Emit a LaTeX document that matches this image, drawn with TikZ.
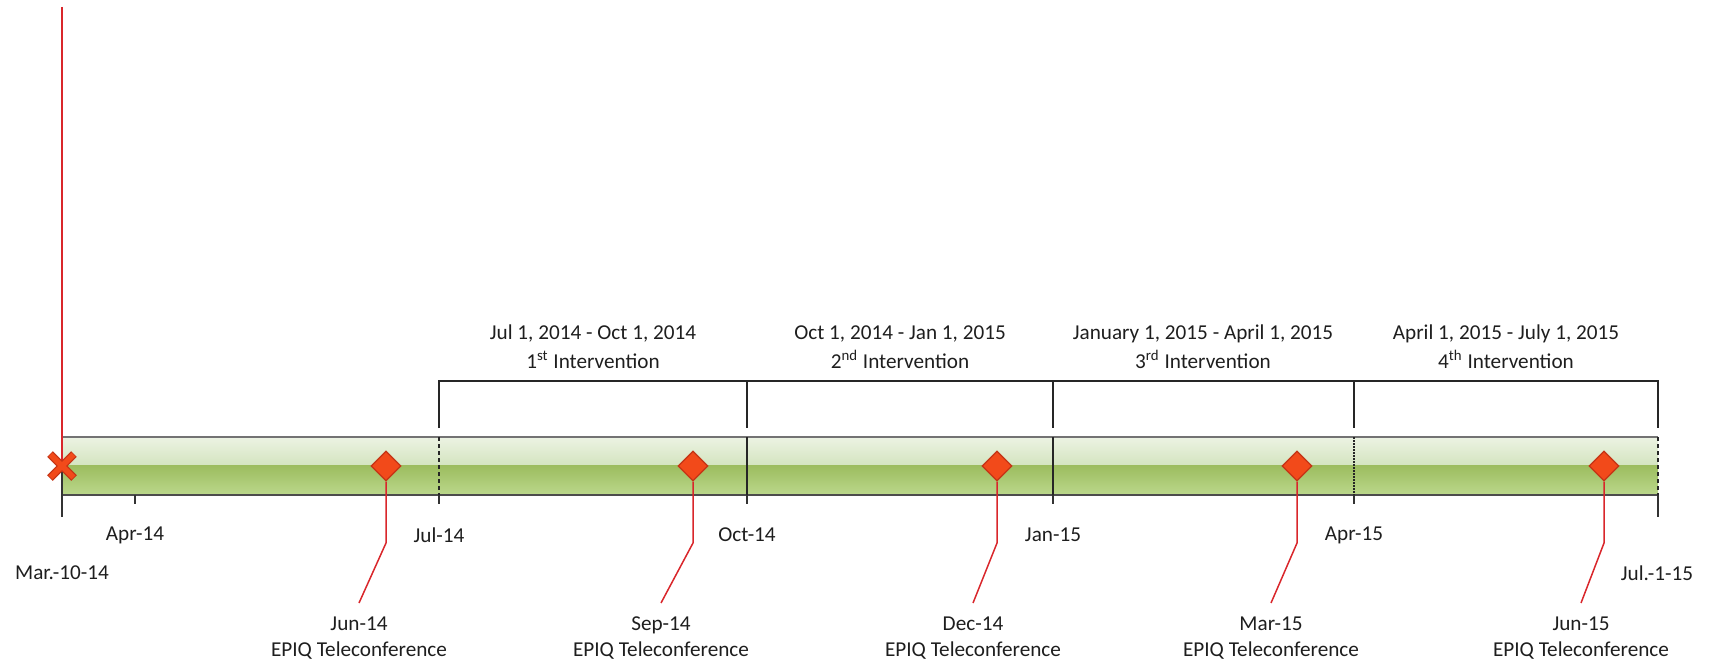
\documentclass[tikz,border=0pt]{standalone}
\usepackage{fontspec}
\setmainfont{Carlito}
\usetikzlibrary{shapes.geometric}
\definecolor{txt}{HTML}{1E1E1E}
\definecolor{evred}{HTML}{D9262B}
\definecolor{dfill}{HTML}{F24A1A}
\definecolor{ddraw}{HTML}{C43416}
\definecolor{gtop1}{HTML}{ECF3E3}
\definecolor{gtop2}{HTML}{D4E4C0}
\definecolor{gbot1}{HTML}{9CBC5E}
\definecolor{gbot2}{HTML}{BBD88C}
\tikzset{
  lbl/.style={text=txt, font=\fontsize{10.6}{13}\selectfont, inner sep=0pt, align=center},
  ilbl/.style={text=txt, font=\fontsize{10.6}{14.5}\selectfont, inner sep=0pt, align=center},
  ev/.style={shape=diamond, fill=dfill, draw=ddraw, line width=0.6pt, minimum size=15pt, inner sep=0pt},
  conn/.style={draw=evred, line width=0.75pt},
  brk/.style={draw=black!85, line width=1pt},
  tick/.style={draw=black!80, line width=0.8pt},
  inln/.style={draw=black!85, line width=0.6pt},
}
\begin{document}
\begin{tikzpicture}[x=0.5pt,y=-0.5pt]
\useasboundingbox (0,0) rectangle (1713,663);
% bar
\shade[top color=gtop1, bottom color=gtop2] (62,437) rectangle (1658,465);
\shade[top color=gbot1, bottom color=gbot2] (62,465) rectangle (1658,495);
\draw[draw=black!55, line width=0.8pt] (62,437) -- (1658,437);
\draw[draw=black!70, line width=1pt] (62,495) -- (1658,495);
% lines inside bar
\draw[inln, dashed, dash pattern=on 2pt off 1.5pt] (439,437) -- (439,495);
\draw[inln] (747,437) -- (747,495);
\draw[inln] (1053,437) -- (1053,495);
\draw[inln, dash pattern=on 1pt off 0.5pt] (1354,437) -- (1354,495);
\draw[inln, dashed, dash pattern=on 2pt off 1.5pt] (1658,437) -- (1658,495);
% ticks
\draw[tick] (62,437) -- (62,517);
\draw[tick] (1658,495) -- (1658,517);
\foreach \xx in {135,439,747,1053,1354} \draw[tick] (\xx,495) -- (\xx,504);
% bracket
\draw[brk] (439,428) -- (439,381) -- (1658,381) -- (1658,428);
\foreach \xx in {747,1053,1354} \draw[brk] (\xx,381) -- (\xx,428);
% intervention labels
\node[ilbl] (i1) at (593,347) {Jul 1, 2014 - Oct 1, 2014\\1\textsuperscript{st} Intervention};
\node[ilbl] (i2) at (900,347) {Oct 1, 2014 - Jan 1, 2015\\2\textsuperscript{nd} Intervention};
\node[ilbl] (i3) at (1203,347) {January 1, 2015 - April 1, 2015\\3\textsuperscript{rd} Intervention};
\node[ilbl] (i4) at (1506,347) {April 1, 2015 - July 1, 2015\\4\textsuperscript{th} Intervention};
% axis labels
\node[lbl] (a1) at (135,535) {Apr-14};
\node[lbl] (a2) at (439,535) {Jul-14};
\node[lbl] (a3) at (747,535) {Oct-14};
\node[lbl] (a4) at (1053,535) {Jan-15};
\node[lbl] (a5) at (1354,535) {Apr-15};
\node[lbl] (a0) at (62,573) {Mar.-10-14};
\node[lbl] (a6) at (1657,573) {Jul.-1-15};
% start marker
\coordinate (top) at (62,7);
\node[inner sep=0pt, minimum size=0pt] (x0) at (62,466) {};
\draw[draw=evred, line width=0.9pt] (top) -- (x0.center);
\draw[draw=ddraw, line width=4pt] (50,454) -- (74,478) (50,478) -- (74,454);
\draw[draw=dfill, line width=2.8pt] (50.6,454.6) -- (73.4,477.4) (50.6,477.4) -- (73.4,454.6);
% events
\foreach \n/\dx/\lx/\t in {1/386/359/Jun-14, 2/693/661/Sep-14, 3/997/973/Dec-14, 4/1297/1271/Mar-15, 5/1604/1581/Jun-15}{
  \node[ev] (d\n) at (\dx,466) {};
  \coordinate (b\n) at (\dx,543);
  \coordinate (e\n) at (\lx,603);
  \node[lbl] (t\n) at (\lx,638) {\t\\EPIQ Teleconference};
  \draw[conn] (d\n.south) -- (b\n) -- (e\n);
}
\end{tikzpicture}
\end{document}
